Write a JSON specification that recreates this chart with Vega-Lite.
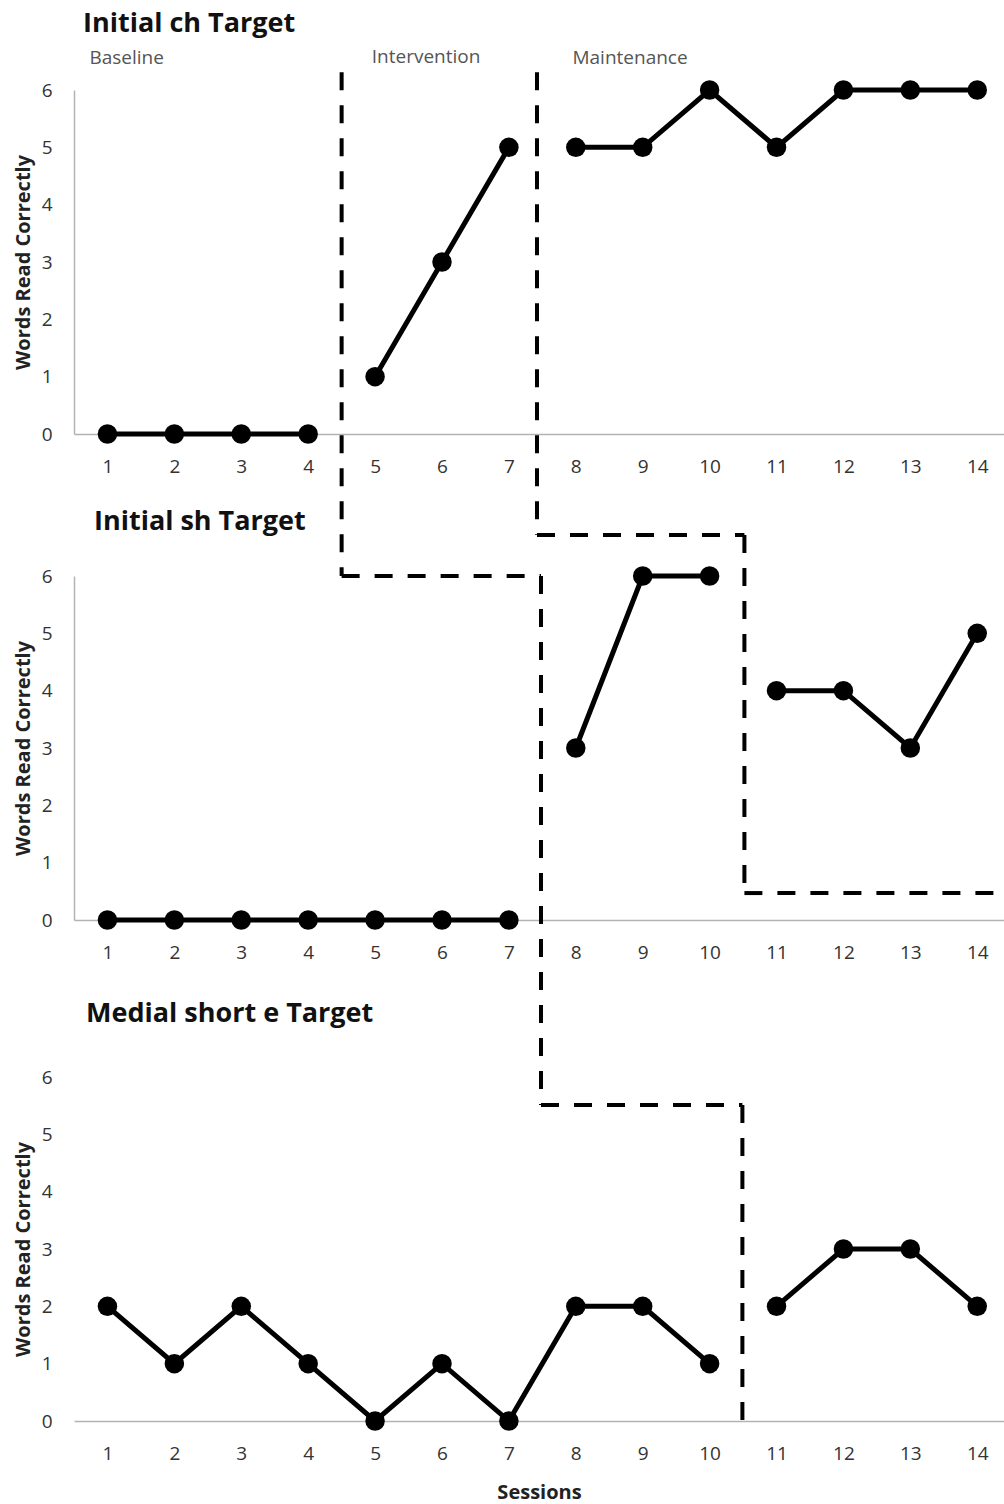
{
  "$schema": "https://vega.github.io/schema/vega-lite/v6.json",
  "background": "white",
  "padding": {"left": 13, "top": 9, "right": 0, "bottom": 4},
  "bounds": "flush",
  "spacing": 142,
  "config": {
    "font": "Open Sans",
    "view": {"stroke": null},
    "axis": {
      "grid": false, "ticks": false, "domainColor": "#b3b3b3", "domainWidth": 1.5,
      "labelFont": "Open Sans", "labelFontSize": 19, "labelColor": "#333333",
      "titleFont": "Open Sans", "titleFontSize": 20, "titleFontWeight": "bold", "titleColor": "#222222"
    },
    "axisX": {"labelPadding": 23, "titlePadding": 19},
    "axisY": {"labelPadding": 22, "titlePadding": 8},
    "title": {"anchor": "start", "frame": "group", "fontSize": 27, "fontWeight": "bold", "color": "#111111", "font": "Open Sans"}
  },
  "datasets": {
    "ch": [
      {"session": 1, "words": 0, "phase": "Baseline"},
      {"session": 2, "words": 0, "phase": "Baseline"},
      {"session": 3, "words": 0, "phase": "Baseline"},
      {"session": 4, "words": 0, "phase": "Baseline"},
      {"session": 5, "words": 1, "phase": "Intervention"},
      {"session": 6, "words": 3, "phase": "Intervention"},
      {"session": 7, "words": 5, "phase": "Intervention"},
      {"session": 8, "words": 5, "phase": "Maintenance"},
      {"session": 9, "words": 5, "phase": "Maintenance"},
      {"session": 10, "words": 6, "phase": "Maintenance"},
      {"session": 11, "words": 5, "phase": "Maintenance"},
      {"session": 12, "words": 6, "phase": "Maintenance"},
      {"session": 13, "words": 6, "phase": "Maintenance"},
      {"session": 14, "words": 6, "phase": "Maintenance"}
    ],
    "sh": [
      {"session": 1, "words": 0, "phase": "Baseline"},
      {"session": 2, "words": 0, "phase": "Baseline"},
      {"session": 3, "words": 0, "phase": "Baseline"},
      {"session": 4, "words": 0, "phase": "Baseline"},
      {"session": 5, "words": 0, "phase": "Baseline"},
      {"session": 6, "words": 0, "phase": "Baseline"},
      {"session": 7, "words": 0, "phase": "Baseline"},
      {"session": 8, "words": 3, "phase": "Intervention"},
      {"session": 9, "words": 6, "phase": "Intervention"},
      {"session": 10, "words": 6, "phase": "Intervention"},
      {"session": 11, "words": 4, "phase": "Maintenance"},
      {"session": 12, "words": 4, "phase": "Maintenance"},
      {"session": 13, "words": 3, "phase": "Maintenance"},
      {"session": 14, "words": 5, "phase": "Maintenance"}
    ],
    "e": [
      {"session": 1, "words": 2, "phase": "Baseline"},
      {"session": 2, "words": 1, "phase": "Baseline"},
      {"session": 3, "words": 2, "phase": "Baseline"},
      {"session": 4, "words": 1, "phase": "Baseline"},
      {"session": 5, "words": 0, "phase": "Baseline"},
      {"session": 6, "words": 1, "phase": "Baseline"},
      {"session": 7, "words": 0, "phase": "Baseline"},
      {"session": 8, "words": 2, "phase": "Baseline"},
      {"session": 9, "words": 2, "phase": "Baseline"},
      {"session": 10, "words": 1, "phase": "Baseline"},
      {"session": 11, "words": 2, "phase": "Intervention"},
      {"session": 12, "words": 3, "phase": "Intervention"},
      {"session": 13, "words": 3, "phase": "Intervention"},
      {"session": 14, "words": 2, "phase": "Intervention"}
    ],
    "dash1": [
      {"session": 4.5, "session2": 4.5, "words": 6.31, "words2": -2.477},
      {"session": 7.42, "session2": 7.42, "words": 6.31, "words2": -1.762},
      {"session": 7.42, "session2": 10.52, "words": -1.762, "words2": -1.762},
      {"session": 10.52, "session2": 10.52, "words": -1.762, "words2": -8.007},
      {"session": 10.52, "session2": 14.4, "words": -8.007, "words2": -8.007}
    ],
    "dash2": [
      {"session": 4.5, "session2": 7.48, "words": 6, "words2": 6},
      {"session": 7.48, "session2": 7.48, "words": 6, "words2": -3.227}
    ],
    "dash3": [
      {"session": 7.48, "session2": 10.49, "words": 5.51, "words2": 5.51},
      {"session": 10.49, "session2": 10.49, "words": 5.51, "words2": 0}
    ],
    "phases": [
      {"label": "Baseline", "session": 0.73, "words": 6.55},
      {"label": "Intervention", "session": 4.95, "words": 6.58},
      {"label": "Maintenance", "session": 7.95, "words": 6.55}
    ]
  },
  "vconcat": [
    {
      "width": 930,
      "height": 344,
      "title": {"text": "Initial ch Target", "dx": 9, "offset": 10},
      "encoding": {
        "x": {"field": "session", "type": "quantitative", "scale": {"domain": [0.5, 14.4], "nice": false, "zero": false}, "axis": {"values": [1,2,3,4,5,6,7,8,9,10,11,12,13,14], "title": null}},
        "y": {"field": "words", "type": "quantitative", "scale": {"domain": [0, 6], "nice": false}, "axis": {"values": [0,1,2,3,4,5,6], "title": "Words Read Correctly"}}
      },
      "layer": [
        {"data": {"name": "dash1"}, "mark": {"type": "rule", "color": "black", "strokeWidth": 4, "strokeDash": [18, 15], "clip": false}, "encoding": {"x2": {"field": "session2"}, "y2": {"field": "words2"}}},
        {"data": {"name": "phases"}, "mark": {"type": "text", "align": "left", "baseline": "middle", "fontSize": 19, "color": "#555555", "clip": false}, "encoding": {"text": {"field": "label"}}},
        {"data": {"name": "ch"}, "mark": {"type": "line", "color": "black", "strokeWidth": 5, "clip": false}, "encoding": {"detail": {"field": "phase"}}},
        {"data": {"name": "ch"}, "mark": {"type": "point", "filled": true, "color": "black", "opacity": 1, "size": 380, "clip": false}}
      ]
    },
    {
      "width": 930,
      "height": 344,
      "title": {"text": "Initial sh Target", "dx": 20, "offset": 30},
      "encoding": {
        "x": {"field": "session", "type": "quantitative", "scale": {"domain": [0.5, 14.4], "nice": false, "zero": false}, "axis": {"values": [1,2,3,4,5,6,7,8,9,10,11,12,13,14], "title": null}},
        "y": {"field": "words", "type": "quantitative", "scale": {"domain": [0, 6], "nice": false}, "axis": {"values": [0,1,2,3,4,5,6], "title": "Words Read Correctly"}}
      },
      "layer": [
        {"data": {"name": "dash2"}, "mark": {"type": "rule", "color": "black", "strokeWidth": 4, "strokeDash": [18, 15], "clip": false}, "encoding": {"x2": {"field": "session2"}, "y2": {"field": "words2"}}},
        {"data": {"name": "sh"}, "mark": {"type": "line", "color": "black", "strokeWidth": 5, "clip": false}, "encoding": {"detail": {"field": "phase"}}},
        {"data": {"name": "sh"}, "mark": {"type": "point", "filled": true, "color": "black", "opacity": 1, "size": 380, "clip": false}}
      ]
    },
    {
      "width": 930,
      "height": 359,
      "title": {"text": "Medial short e Target", "dx": 12, "offset": 34},
      "encoding": {
        "x": {"field": "session", "type": "quantitative", "scale": {"domain": [0.5, 14.4], "nice": false, "zero": false}, "axis": {"values": [1,2,3,4,5,6,7,8,9,10,11,12,13,14], "title": "Sessions"}},
        "y": {"field": "words", "type": "quantitative", "scale": {"domain": [0, 6.262], "nice": false}, "axis": {"values": [0,1,2,3,4,5,6], "title": "Words Read Correctly", "domain": false, "titleY": 187}}
      },
      "layer": [
        {"mark": {"type": "rule", "color": "#b3b3b3", "strokeWidth": 1.5}, "encoding": {"x": {"datum": 0.5, "type": "quantitative"}, "y": {"datum": 0, "type": "quantitative"}, "y2": {"datum": 6}}},
        {"data": {"name": "dash3"}, "mark": {"type": "rule", "color": "black", "strokeWidth": 4, "strokeDash": [18, 15], "clip": false}, "encoding": {"x2": {"field": "session2"}, "y2": {"field": "words2"}}},
        {"data": {"name": "e"}, "mark": {"type": "line", "color": "black", "strokeWidth": 5, "clip": false}, "encoding": {"detail": {"field": "phase"}}},
        {"data": {"name": "e"}, "mark": {"type": "point", "filled": true, "color": "black", "opacity": 1, "size": 380, "clip": false}}
      ]
    }
  ]
}
